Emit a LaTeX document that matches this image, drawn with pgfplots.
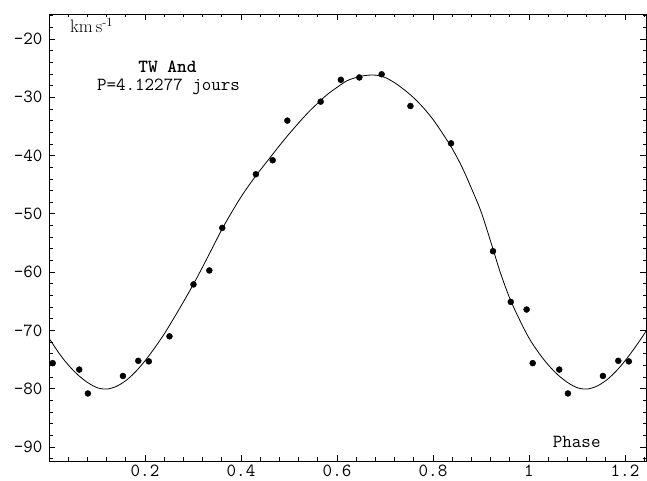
\documentclass[border=0pt]{standalone}
\usepackage{pgfplots}
\pgfplotsset{compat=1.18}

% radial velocity measurements of TW And, folded on P = 4.12277 d
\pgfplotstableread{
phase  v
0.0077 -75.6
0.063  -76.7
0.081  -80.8
0.154  -77.8
0.186  -75.2
0.208  -75.3
0.251  -71.0
0.301  -62.1
0.334  -59.7
0.361  -52.4
0.431  -43.2
0.466  -40.8
0.4965 -34.0
0.566  -30.75
0.608  -27.0
0.6465 -26.6
0.693  -26.05
0.753  -31.5
0.8375 -37.9
0.925  -56.4
0.962  -65.1
0.995  -66.4
1.0077 -75.6
1.063  -76.7
1.081  -80.8
1.154  -77.8
1.186  -75.2
1.208  -75.3
}\obs

% fitted velocity curve
\pgfplotstableread{
phase v
0.00 -71.3
0.02 -73.8
0.04 -75.9
0.06 -77.6
0.08 -78.9
0.10 -79.8
0.12 -80.05
0.14 -79.6
0.16 -78.6
0.18 -77.1
0.20 -75.2
0.22 -73.0
0.24 -70.6
0.26 -67.9
0.28 -65.1
0.30 -62.2
0.32 -59.1
0.34 -55.9
0.36 -52.7
0.38 -49.8
0.40 -47.1
0.42 -44.7
0.44 -42.5
0.46 -40.4
0.48 -38.3
0.50 -36.3
0.52 -34.4
0.54 -32.6
0.56 -31.0
0.58 -29.5
0.60 -28.3
0.62 -27.2
0.64 -26.6
0.66 -26.25
0.68 -26.2
0.70 -26.6
0.72 -27.5
0.74 -28.7
0.76 -30.1
0.78 -31.8
0.80 -33.8
0.82 -36.2
0.84 -38.8
0.86 -41.9
0.88 -45.6
0.90 -49.6
0.92 -54.7
0.94 -60.0
0.96 -64.5
0.98 -68.1
1.00 -71.3
1.02 -73.8
1.04 -75.9
1.06 -77.6
1.08 -78.9
1.10 -79.8
1.12 -80.05
1.14 -79.6
1.16 -78.6
1.18 -77.1
1.20 -75.2
1.22 -73.0
1.24 -70.6
1.26 -67.9
}\fit

\newcommand\tlab{\ttfamily\fontsize{18.5}{21}\selectfont}

\begin{document}
\begin{tikzpicture}
\path[use as bounding box] (-49pt,-20pt) rectangle (598pt,461pt);
\begin{axis}[
  at={(0pt,0pt)}, anchor=south west,
  scale only axis, width=597pt, height=447pt,
  xmin=0, xmax=1.24375, ymin=-92.384, ymax=-15.712,
  axis line style={line width=0.8pt},
  every tick/.style={black, line width=0.8pt},
  major tick length=6pt, minor tick length=3.5pt,
  xtick={0.2,0.4,0.6,0.8,1,1.2},
  xticklabels={0.2,0.4,0.6,0.8,1,1.2},
  minor xtick={0.04,0.08,0.12,0.16,0.24,0.28,0.32,0.36,0.44,0.48,0.52,0.56,0.64,0.68,0.72,0.76,0.84,0.88,0.92,0.96,1.04,1.08,1.12,1.16,1.24},
  ytick={-90,-80,-70,-60,-50,-40,-30,-20},
  yticklabels={-90,-80,-70,-60,-50,-40,-30,-20},
  minor ytick={-92,-88,-86,-84,-82,-78,-76,-74,-72,-68,-66,-64,-62,-58,-56,-54,-52,-48,-46,-44,-42,-38,-36,-34,-32,-28,-26,-24,-22,-18,-16},
  tick label style={font=\tlab},
  xticklabel style={inner sep=0.5pt, yshift=-3.5pt},
  yticklabel style={xshift=-3pt},
  clip=true,
]
\addplot[black, line width=0.8pt, smooth, no marks] table[x=phase, y=v] {\fit};
\addplot[only marks, mark=*, mark size=3pt, black] table[x=phase, y=v] {\obs};

\node[anchor=base west, inner sep=0pt, font=\fontsize{18}{20}\selectfont]
  at (axis cs:0.04375,-18.97) {km\,s\textsuperscript{-1}};
\node[anchor=base, inner sep=0pt, font=\tlab\bfseries]
  at (axis cs:0.2469,-25.8) {TW And};
\node[anchor=base, inner sep=0pt, font=\tlab]
  at (axis cs:0.249,-28.75) {P=4.12277 jours};
\node[anchor=base, inner sep=0pt, font=\tlab]
  at (axis cs:1.0994,-90.03) {Phase};
\end{axis}
\end{tikzpicture}
\end{document}
